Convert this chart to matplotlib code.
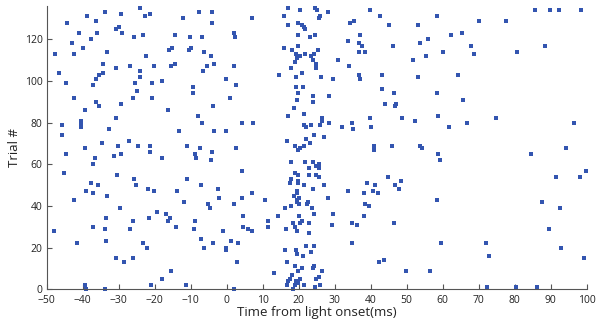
import matplotlib
matplotlib.use("Agg")
import matplotlib.pyplot as plt

# Spike raster: spike time (ms, relative to light onset) and trial index
spike_times = [
    -24.0, -38.7, -33.9, -29.4, -22.6, -21.4, -12.1, -44.4, -36.4, -30.0, -30.8, -40.9, -35.9, -29.0,
    -25.7, -23.3, -14.5, -10.1, -37.7, -42.9, -39.8, -15.1, -15.9, -10.0, -10.5, -47.7, -42.4, -33.3,
    -22.5, -34.3, -14.3, -27.0, -20.1, -15.5, -30.8, -46.7, -34.4, -24.2, -35.4, -36.4, -24.2, -44.7,
    -37.2, -25.6, -20.8, -18.0, -9.5, -24.8, -9.5, -42.5, -26.1, -20.7,
    -7.8, -4.2, -4.1, 7.1, -7.0, 2.1, 2.2, -6.3, -4.5, -3.5, -5.4, -6.7, 2.0, -0.2, 2.7, 1.0,
    16.9, 16.0, 20.3, 24.4, 25.0, 28.1, 25.8, 25.5, 17.0, 19.9, 21.0, 21.6, 21.7, 19.7, 23.1, 24.5,
    19.9, 16.0, 18.0, 19.3, 20.3, 21.8, 23.4, 24.2, 25.4, 19.4, 19.0, 23.9, 24.9, 17.8, 21.0, 24.8,
    14.4, 19.3, 26.1, 19.3, 21.3, 19.7, 19.4, 24.1, 28.5,
    39.7, 42.6, 34.3, 35.4, 45.1, 36.9, 33.7, 36.7, 37.5, 46.3, 36.7, 38.3, 30.8, 34.1, 29.5, 36.7,
    37.1, 43.0, 43.1, 46.6, 58.4, 53.0, 62.4, 65.4, 55.8, 53.7, 60.2, 55.3, 51.7, 53.0, 64.3, 58.3,
    65.6,
    85.7, 89.9, 92.3, 98.4, 70.1, 77.5, 67.8, 88.3, 68.8, 80.5,
    -36.2, -35.4, -29.4, -39.5, -16.2, -30.8, -40.6, -45.8, -40.5, -40.6, -32.7, -13.2, -45.7, -27.2,
    -34.6, -30.1, -24.6, -21.2, -11.0, -39.5, -21.3, -44.6, -29.3, -31.4, -36.6, -18.1, -37.1, -45.2,
    -30.4, -25.7, -11.0, -37.7, -35.8, -25.2, -21.8, -20.3, -13.7, -39.1, -37.2, -33.3,
    -3.9, 18.6, -8.0, -7.0, 4.3, 7.3, 16.9, 21.6, 24.1, -3.5, -0.2, 21.4, 22.1, 23.5, 25.8, 26.4,
    26.6, 28.5, 16.8, 21.9, 24.3, 27.0, 19.1, 20.3, 19.7, 21.4, 23.0, -7.5, -4.2, 2.5, -8.7, -8.5,
    -4.3, 17.8, 21.8, 24.1, 25.5, 24.8, 25.7, 22.8, 4.3, 18.9, 19.8, 22.8, 24.7, 25.5, 17.9, 17.5,
    19.8, 19.7, 21.6, 26.9, -7.2, -2.3, 7.0, 19.6, 19.6, 18.6, 24.0,
    44.1, 47.1, 46.8, 39.8, 48.7, 52.3, 58.7, 34.7, 32.0, 35.0, 40.0, 61.8, 40.8, 40.9, 46.0, 53.8,
    54.3, 58.6, 59.3, 44.9, 48.4, 38.9, 41.1, 46.8, 47.9, 33.6, 40.5, 38.0, 42.1,
    66.8, 74.8, 96.6, 94.3, 84.6, 99.8, 91.5, 98.0,
    -42.4, -29.6, -12.0, -8.9, -9.0, -19.5, -17.0, -16.3, -15.7, -21.5, -14.0, -26.1, -26.9, -33.4,
    -37.1, -33.8, -47.9, -33.5, -41.7, -23.3, -22.1, -30.8, -28.6, -25.9, -15.6, -17.9, -39.5, -39.1,
    -33.8, -21.1, -11.3,
    -2.1, 4.3, 10.5, -5.1, -4.6, 1.9, 20.2, 19.4, 19.6, 20.2, 22.2, 22.7, 17.8, 16.2, 23.6, 24.2,
    14.2, 20.2, 20.8, 20.4, 18.5, 22.9, 4.5, 11.6, 11.4, 4.6, 6.0, 7.1, -0.9, 19.1, 16.5, 19.5,
    22.9, -7.2, -3.7, 1.2, 3.0, -6.3, -0.2, -0.3, 16.3, 19.3, 19.4, 21.2, 22.1, 24.3, 23.3, 16.7,
    2.8, 18.9, 19.7, 21.0, 24.3, 23.9, 26.6, 13.1, 18.0, 17.6, 17.1, 20.4, 19.3, 19.9, 24.8, 25.7,
    16.7, 19.0, 21.6, 24.6, 26.0, 18.3, 1.9, 28.0,
    58.3, 38.4, 39.6, 29.5, 38.0, 29.2, 34.7, 36.2, 46.4, 34.9, 59.5, 42.3, 43.8, 49.8, 56.5,
    87.6, 92.5, 89.4, 72.1, 72.9, 92.9, 99.2, 72.2, 80.3, 86.2,
]
spike_trials = [
    135, 131, 133, 132, 131, 132, 130, 128, 129, 126, 125, 123, 123, 123,
    121, 122, 122, 121, 120, 118, 116, 116, 115, 116, 115, 113, 113, 114,
    112, 108, 108, 107, 107, 107, 106, 104, 104, 105, 103, 101, 102, 99,
    98, 99, 99, 100, 97, 95, 94, 92, 92, 92,
    133, 133, 128, 130, 121, 123, 121, 114, 112, 108, 107, 105, 107, 101, 98, 92,
    135, 131, 134, 135, 134, 133, 131, 130, 127, 128, 127, 126, 125, 122, 121, 122,
    117, 116, 115, 113, 112, 113, 112, 113, 115, 111, 109, 110, 108, 106, 104, 106,
    103, 102, 102, 97, 97, 94, 91, 93, 93,
    134, 131, 128, 129, 127, 122, 119, 118, 117, 117, 114, 114, 110, 107, 101, 103,
    101, 103, 96, 94, 131, 127, 122, 123, 120, 118, 114, 112, 110, 102, 103, 94,
    91,
    134, 134, 134, 134, 129, 129, 117, 117, 113, 114,
    90, 88, 89, 86, 86, 82, 81, 79, 79, 78, 77, 76, 74, 71,
    70, 69, 69, 69, 69, 68, 66, 65, 65, 64, 63, 63, 60, 56,
    55, 53, 53, 51, 50, 50, 48, 47, 47, 47, 46, 45,
    88, 87, 83, 80, 80, 80, 83, 84, 90, 76, 76, 79, 78, 79, 79, 82,
    81, 80, 71, 72, 74, 73, 69, 68, 67, 69, 70, 68, 66, 68, 65, 63,
    62, 61, 61, 61, 60, 59, 58, 58, 57, 56, 55, 55, 55, 54, 53, 51,
    52, 51, 50, 50, 50, 48, 46, 47, 46, 45, 48,
    89, 89, 88, 82, 82, 81, 83, 80, 78, 77, 78, 78, 69, 67, 69, 69,
    68, 65, 62, 54, 52, 51, 50, 50, 48, 47, 47, 46, 46,
    80, 82, 80, 68, 65, 57, 54, 54,
    43, 39, 42, 33, 29, 37, 36, 33, 34, 34, 30, 33, 29, 34,
    30, 29, 28, 23, 22, 22, 20, 15, 13, 15, 9, 5, 2, 0,
    0, 2, 2,
    44, 44, 43, 41, 39, 41, 44, 43, 42, 41, 41, 42, 40, 39, 39, 36,
    35, 35, 33, 32, 32, 32, 35, 33, 30, 30, 29, 28, 28, 30, 29, 28,
    27, 24, 22, 23, 22, 20, 20, 19, 19, 19, 17, 16, 21, 21, 18, 13,
    13, 11, 9, 10, 11, 10, 9, 8, 7, 5, 4, 5, 4, 3, 5, 6,
    2, 2, 2, 1, 2, 0, 0, 44,
    43, 41, 40, 36, 35, 31, 32, 31, 32, 22, 22, 13, 14, 9, 9,
    42, 39, 29, 22, 16, 20, 15, 1, 1, 1,
]

x_ticks = list(range(-50, 101, 10))
y_ticks = list(range(0, 121, 20))

plt.rcParams["font.family"] = ["Open Sans", "DejaVu Sans"]

fig = plt.figure(figsize=(5.96, 3.25), dpi=100)
ax = fig.add_axes([0.0784, 0.1098, 0.906, 0.872])

ax.plot(spike_times, spike_trials, linestyle="none", marker="s",
        markersize=2.2, markeredgewidth=0, color="#3355b0", clip_on=False)

ax.set_xlim(-50, 100)
ax.set_ylim(0, 136)
ax.set_xticks(x_ticks)
ax.set_yticks(y_ticks)
ax.set_xticklabels([str(t).replace("-", "\u2212") for t in x_ticks])

for side in ("top", "right"):
    ax.spines[side].set_visible(False)
for side in ("left", "bottom"):
    ax.spines[side].set_color("#555555")
    ax.spines[side].set_linewidth(0.8)

ax.tick_params(direction="in", length=3.5, width=0.8, color="#555555",
               labelsize=7.5, labelcolor="#222222")
ax.tick_params(axis="x", pad=4)
ax.tick_params(axis="y", pad=3)

ax.set_xlabel("Time from light onset(ms)", fontsize=9.5, labelpad=0, color="#222222")
ax.set_ylabel("Trial #", fontsize=9.5, labelpad=3, color="#222222")

fig.savefig("out.png", dpi=100)
